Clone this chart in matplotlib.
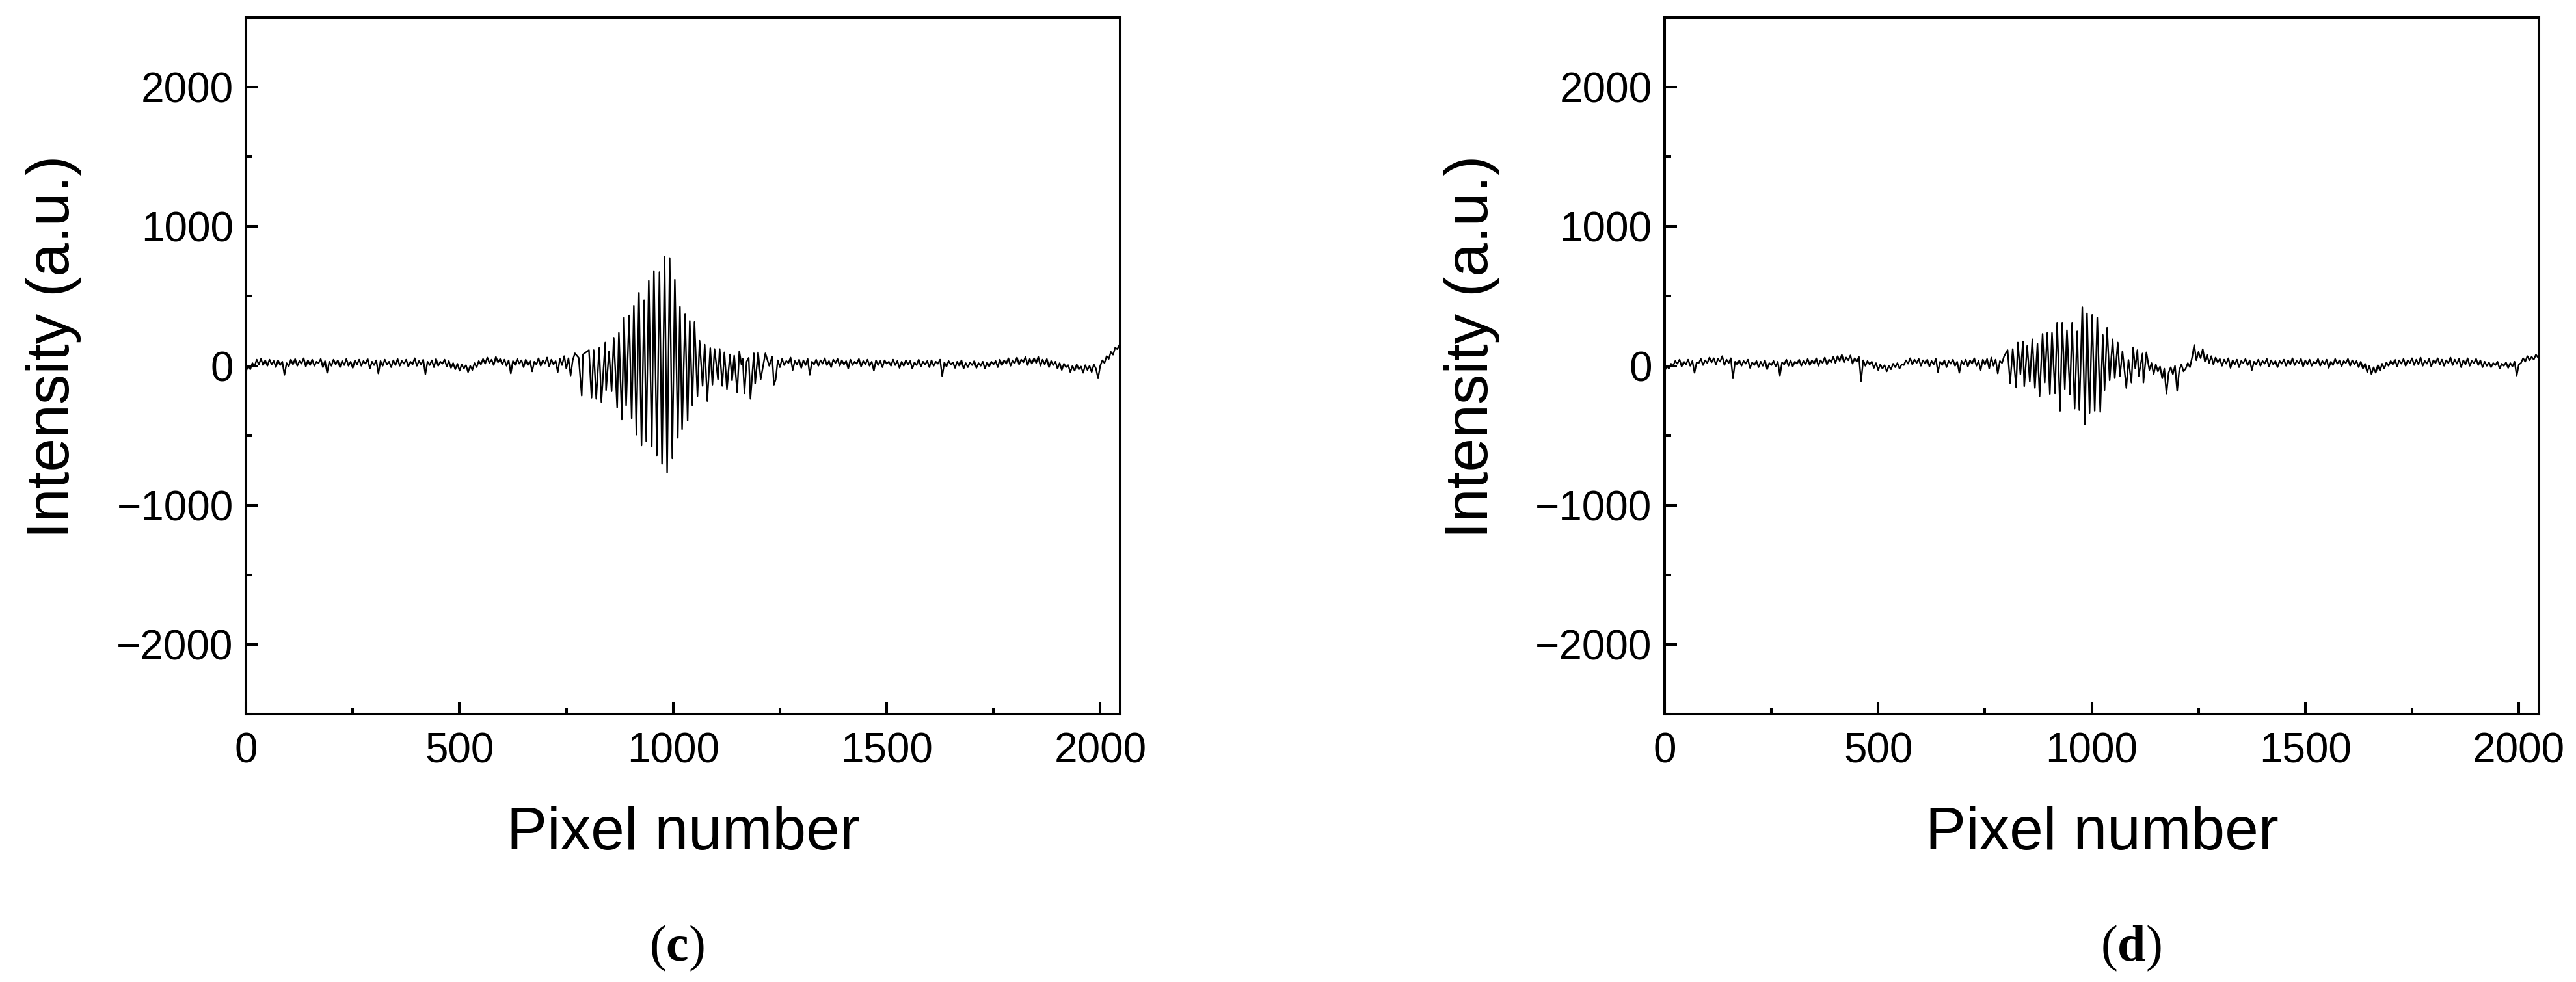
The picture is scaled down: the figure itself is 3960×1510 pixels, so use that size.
import numpy as np
import matplotlib
matplotlib.use("Agg")
import matplotlib.pyplot as plt
from matplotlib.ticker import MultipleLocator

plt.rcParams['font.family'] = ['Liberation Sans', 'DejaVu Sans']
plt.rcParams['mathtext.fontset'] = 'custom'
plt.rcParams['mathtext.rm'] = 'Liberation Serif'
plt.rcParams['mathtext.bf'] = 'Liberation Serif:bold'

# ------------------------------------------------------------
# data (pixel number -> intensity, a.u.)
# background parts are read every 5 pixels, fringes peak by peak
# ------------------------------------------------------------
bg_step = 5

# panel (c)
c_left_vals = [
    -40, 0, -25, 20, -5, 45, 10, 50, 5, 40,
    0, 45, 10, 35, -10, 40, 5, 30, -65, 20,
    -5, 45, 10, 50, 0, 35, 15, 55, -5, 40,
    5, 45, 0, 30, 20, 50, -10, 35, -50, 30,
    0, 45, 10, 40, -10, 35, 5, 50, 0, 30,
    -15, 40, 10, 45, 0, 35, 15, 50, -20, 30,
    5, 40, -55, 35, 0, 45, 10, 30, -10, 40,
    5, 50, 0, 35, 15, 45, -5, 30, 10, 55,
    0, 35, 10, 45, -60, 30, 5, 40, -10, 50,
    0, 30, 15, 45, -5, 35, -15, 20, -25, 15,
    -35, 10, -20, 5, -45, 0, -30, 20, -10, 35,
    10, 50, 15, 60, 20, 45, 5, 65, 25, 50,
    10, 45, 0, 40, -55, 35, 5, 50, 15, 40,
    -10, 45, 5, 35, -40, 30, 10, 55, 0, 40,
    15, 60, -5, 45, 10, 35, -45, 50, 5, 70,
    -20, 55, -70, 40,
]  # pixel 0 .. 765
c_fringe_px = [
    770, 779, 786, 789, 803, 809, 814, 820, 827, 832,
    841, 843, 850, 856, 861, 869, 873, 880, 885, 890,
    897, 903, 908, 914, 920, 926, 932, 937, 943, 950,
    955, 962, 968, 974, 980, 986, 992, 998, 1004, 1011,
    1016, 1021, 1028, 1034, 1039, 1045, 1050, 1057, 1062, 1069,
    1074, 1080, 1087, 1092, 1097, 1105, 1109, 1115, 1120, 1126,
    1133, 1138, 1143, 1150, 1155, 1160, 1163, 1167, 1172, 1177,
    1181, 1189, 1192, 1199, 1205, 1216, 1225, 1232, 1236,
]
c_fringe_vals = [
    90, 58, -214, 82, 113, -229, 113, -237, 129, -260,
    167, -175, 105, -183, 202, -299, 237, -385, 346, -284,
    362, -377, 432, -494, 525, -572, 471, -541, 611, -580,
    681, -642, 673, -704, 782, -766, 774, -665, 619, -517,
    424, -455, 370, -393, 323, -284, 315, -218, 180, -144,
    152, -253, 128, -136, 121, -97, 121, -144, 97, -167,
    82, -105, 74, -191, 105, 10, 51, -198, 30, 58,
    -237, 90, -128, 97, -97, 90, 0, 66, -136,
]
c_right_vals = [
    -100, 40, -10, 50, 5, 35, 20, 60, -30, 35,
    10, 45, -15, 40, 5, 50, -65, 30, 10, 45,
    0, 40, 15, 55, 5, 35, -10, 45, 20, 50,
    0, 40, 10, 35, -20, 45, 5, 30, 15, 50,
    -5, 35, 10, 45, 0, 30, -35, 40, 5, 35,
    -10, 40, 15, 30, 0, 45, 5, 35, -15, 30,
    0, 40, 10, 35, -20, 25, 5, 45, -5, 30,
    10, 35, -10, 40, 0, 30, 15, 45, -75, 25,
    -5, 35, 10, 25, -15, 30, 0, 40, -20, 20,
    -10, 25, 5, 35, -15, 20, 0, 30, -20, 25,
    -5, 30, 10, 35, -10, 45, 5, 40, 15, 55,
    0, 40, 20, 60, 10, 45, 25, 65, 5, 50,
    15, 55, 20, 65, 0, 45, 10, 50, -10, 35,
    5, 30, -20, 20, -30, 15, -10, 5, -45, 0,
    -35, 10, -25, -5, -50, 5, -30, 0, -45, 10,
    -20, -90, 0, 40, 20, 70, 50, 100, 80, 130,
    120, 150,
]  # pixel 1240 .. 2045
c_right_start = 1240
c_last = (2047, 160)

# panel (d)
d_left_vals = [
    -40, 0, -20, 15, 0, 35, 15, 45, -5, 30,
    10, 45, 0, 35, -50, 25, 20, 50, 5, 40,
    20, 60, 25, 55, 10, 50, 30, 70, 5, 45,
    20, 55, -90, 30, 10, 40, 0, 35, 15, 45,
    -15, 25, 5, 35, -10, 30, 0, 40, -25, 20,
    5, 35, -5, 30, -70, 25, 10, 45, 0, 40,
    -5, 30, 15, 45, 0, 35, 10, 50, 5, 40,
    15, 55, 0, 40, 20, 60, 10, 45, 25, 65,
    20, 70, 35, 80, 25, 60, 40, 75, 15, 55,
    30, 65, -110, 40, 0, 35, 10, 30, -15, 20,
    -30, 10, -20, 5, -40, 0, -25, 15, -10, 20,
    -20, 10, 5, 40, 15, 55, 10, 45, 20, 50,
    0, 40, 15, 45, -5, 35, 10, 50, -45, 30,
    5, 40, -10, 35, 15, 45, 0, 30, -50, 35,
    10, 45, -5, 40, 15, 55, 0, 35, -30, 45,
    10, 50, -20, 60, 0, 45, -55, 35, 20, 70,
]  # pixel 0 .. 795
d_fringe_px = [
    803, 809, 815, 823, 827, 833, 839, 842, 849, 855,
    861, 867, 873, 878, 885, 890, 896, 902, 907, 914,
    919, 926, 931, 937, 942, 949, 954, 960, 966, 971,
    978, 984, 989, 995, 1001, 1007, 1013, 1020, 1026, 1030,
    1036, 1042, 1049, 1054, 1061, 1066, 1072, 1081, 1086, 1093,
    1097, 1102, 1107, 1110, 1119, 1121, 1128,
]
d_fringe_vals = [
    113, -125, 121, -156, 167, -60, 175, -147, 144, -113,
    191, -159, 159, -219, 230, -121, 237, -203, 237, -198,
    310, -323, 310, -167, 256, -206, 310, -307, 248, -318,
    421, -421, 377, -338, 366, -323, 346, -331, 222, -175,
    273, -105, 191, -89, 167, -74, 105, -159, 43, -121,
    133, -20, 113, -74, 89, -121, 97,
]
d_right_vals = [
    -30, 20, -60, 10, -40, -5, -90, -20, -200, -50,
    -10, -60, 0, -180, -30, 10, -40, -20, 20, -10,
    60, 150, 40, 100, 55, 120, 30, 80, 20, 70,
    10, 60, 25, 50, 0, 45, 15, 55, -15, 40,
    10, 45, -10, 35, 20, 50, 5, 40, -30, 30,
    10, 45, 0, 35, 15, 50, -5, 40, 10, 35,
    -10, 35, 15, 45, 0, 40, 10, 55, 5, 35,
    20, 50, -5, 40, 10, 45, 0, 30, 15, 50,
    0, 35, 10, 45, -15, 30, 5, 50, 15, 40,
    -5, 35, 20, 50, 0, 40, 10, 35, -10, 30,
    -20, 15, -45, 0, -60, -10, -50, 5, -35, 15,
    -20, 25, 0, 35, 10, 45, -5, 40, 15, 50,
    0, 40, 20, 55, 5, 45, 10, 60, 0, 35,
    15, 50, -5, 40, 20, 55, 10, 45, 0, 40,
    20, 60, 5, 45, 15, 50, -10, 40, 10, 55,
    0, 35, 20, 50, 5, 40, -10, 30, 0, 25,
    -10, 20, 5, 30, -20, 15, 0, 25, -15, 20,
    -5, 30, -70, 10, 20, 55, 30, 70, 40, 65,
    45, 80, 60,
]  # pixel 1135 .. 2045
d_right_start = 1135
d_last = (2047, 70)

panel_tags = ['c', 'd']
x_label = 'Pixel number'
y_label = 'Intensity (a.u.)'


def build_trace(left_vals, fr_px, fr_vals, right_start, right_vals, last):
    x = list(np.arange(len(left_vals)) * bg_step)
    y = list(left_vals)
    x += fr_px
    y += fr_vals
    x += list(right_start + np.arange(len(right_vals)) * bg_step)
    y += right_vals
    x.append(last[0])
    y.append(last[1])
    return np.array(x), np.array(y)


traces = [
    build_trace(c_left_vals, c_fringe_px, c_fringe_vals, c_right_start, c_right_vals, c_last),
    build_trace(d_left_vals, d_fringe_px, d_fringe_vals, d_right_start, d_right_vals, d_last),
]

# ------------------------------------------------------------
# figure
# ------------------------------------------------------------
fig = plt.figure(figsize=(39.6, 15.1), dpi=100)
ax_lefts = [0.0955, 0.6462]
tag_x = [0.2628, 0.8272]

for left, (x, y), tag, tx in zip(ax_lefts, traces, panel_tags, tag_x):
    ax = fig.add_axes([left, 0.2728, 0.3394, 0.7093])
    ax.plot(x, y, color='black', lw=1.7)

    ax.set_xlim(0, 2047)
    ax.set_ylim(-2500, 2500)
    ax.xaxis.set_major_locator(MultipleLocator(500))
    ax.xaxis.set_minor_locator(MultipleLocator(250))
    ax.yaxis.set_major_locator(MultipleLocator(1000))
    ax.yaxis.set_minor_locator(MultipleLocator(500))
    ax.tick_params(which='both', direction='in', top=False, right=False,
                   width=2.9, labelsize=46)
    ax.tick_params(which='major', length=14)
    ax.tick_params(which='minor', length=7)
    ax.tick_params(axis='x', which='major', pad=20)
    ax.tick_params(axis='y', which='major', pad=14)
    for sp in ax.spines.values():
        sp.set_linewidth(2.9)

    ax.set_xlabel(x_label, fontsize=67)
    ax.set_ylabel(y_label, fontsize=67)
    ax.xaxis.set_label_coords(0.5, -0.172)
    ax.xaxis.label.set_verticalalignment('center')
    ax.yaxis.set_label_coords(-0.22, 0.527)
    ax.yaxis.label.set_verticalalignment('center')

    fig.text(tx, 0.034, r'($\mathbf{' + tag + r'}$)', ha='center', va='center',
             fontsize=56, family='Liberation Serif')

fig.savefig('out.png', dpi=100, facecolor='white')
